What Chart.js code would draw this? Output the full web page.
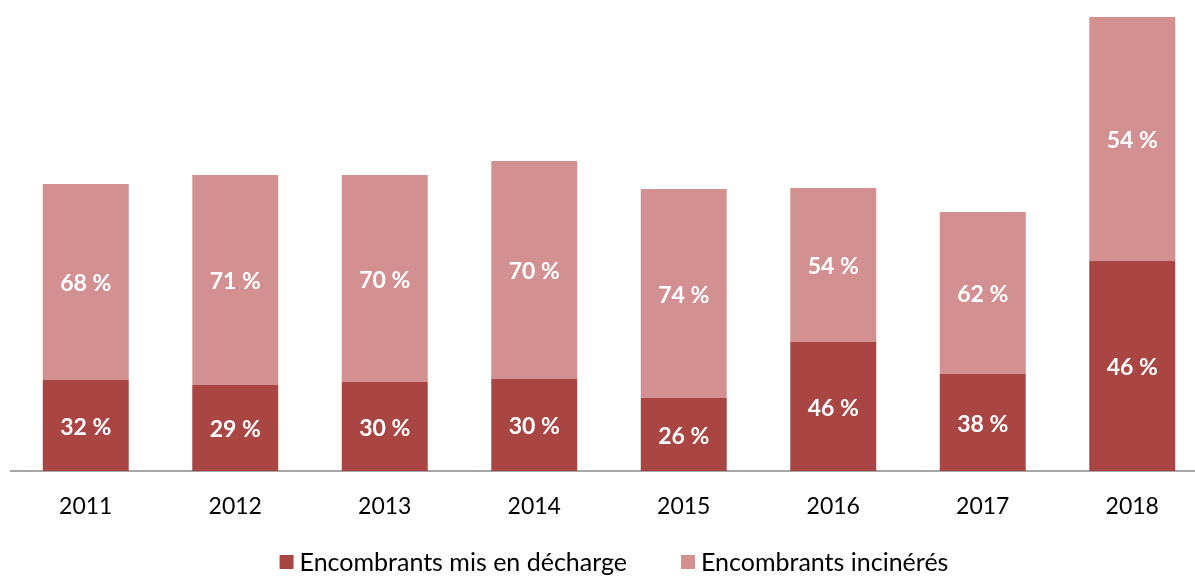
<!DOCTYPE html>
<html>
<head>
<meta charset="utf-8">
<script src="https://cdn.jsdelivr.net/npm/chart.js@4"></script>
<style>
  html, body { margin: 0; padding: 0; background: #fff; overflow: hidden; }
  #wrap { width: 1228px; height: 576px; }
  canvas { display: block; }
</style>
</head>
<body>
<div id="wrap"><canvas id="chart" width="1228" height="576"></canvas></div>
<script>
// Data (bar heights in chart units, labels as shown)
const years = ['2011', '2012', '2013', '2014', '2015', '2016', '2017', '2018'];
const landfill = [91, 86, 89, 92, 73, 129, 97, 210];
const incinerated = [196, 210, 207, 218, 209, 154, 162, 244];
const landfillPct = ['32 %', '29 %', '30 %', '30 %', '26 %', '46 %', '38 %', '46 %'];
const incineratedPct = ['68 %', '71 %', '70 %', '70 %', '74 %', '54 %', '62 %', '54 %'];

const FONT = 'Lato, "Open Sans", sans-serif';
const DARK = '#a94644';
const LIGHT = '#d29190';

// Percent labels in the middle of each segment
const segmentLabels = {
  id: 'segmentLabels',
  afterDatasetsDraw(chart) {
    const ctx = chart.ctx;
    const labelSets = [landfillPct, incineratedPct];
    ctx.save();
    ctx.fillStyle = '#ffffff';
    ctx.font = 'bold 23px ' + FONT;
    ctx.textAlign = 'center';
    ctx.textBaseline = 'middle';
    chart.data.datasets.forEach((ds, di) => {
      chart.getDatasetMeta(di).data.forEach((bar, i) => {
        const y = (bar.y + bar.base) / 2 + 2;
        ctx.fillText(labelSets[di][i], bar.x, y);
      });
    });
    ctx.restore();
  }
};

// Legend at the bottom, drawn by hand for exact spacing
const bottomLegend = {
  id: 'bottomLegend',
  afterDraw(chart) {
    const ctx = chart.ctx;
    const box = 14, gapText = 6, gapItem = 54;
    ctx.save();
    ctx.font = '25px ' + FONT;
    ctx.textBaseline = 'middle';
    ctx.textAlign = 'left';
    const items = chart.data.datasets.map(ds => ({
      text: ds.label, color: ds.backgroundColor, w: ctx.measureText(ds.label).width
    }));
    let total = 0;
    items.forEach((it, i) => { total += box + gapText + it.w + (i ? gapItem : 0); });
    let x = chart.width / 2 - total / 2;
    const y = 562;
    items.forEach(it => {
      ctx.fillStyle = it.color;
      ctx.fillRect(x, y - box / 2, box, box);
      ctx.fillStyle = '#000';
      ctx.fillText(it.text, x + box + gapText, y + 1);
      x += box + gapText + it.w + gapItem;
    });
    ctx.restore();
  }
};

new Chart(document.getElementById('chart'), {
  type: 'bar',
  data: {
    labels: years,
    datasets: [
      {
        label: 'Encombrants mis en décharge',
        data: landfill,
        backgroundColor: DARK,
        barPercentage: 0.575,
        categoryPercentage: 1
      },
      {
        label: 'Encombrants incinérés',
        data: incinerated,
        backgroundColor: LIGHT,
        barPercentage: 0.575,
        categoryPercentage: 1
      }
    ]
  },
  options: {
    responsive: false,
    animation: false,
    layout: { padding: { left: 11, right: 21, top: 10, bottom: 50 } },
    plugins: {
      legend: { display: false },
      tooltip: { enabled: false }
    },
    scales: {
      x: {
        stacked: true,
        grid: { display: false },
        border: { display: true, color: '#a6a6a6', width: 2 },
        ticks: { color: '#000', font: { family: FONT, size: 23 }, padding: 14 },
        afterFit(scale) { scale.height = 55; }
      },
      y: {
        stacked: true,
        display: false,
        min: 0,
        max: 461
      }
    }
  },
  plugins: [segmentLabels, bottomLegend]
});
</script>
</body>
</html>
